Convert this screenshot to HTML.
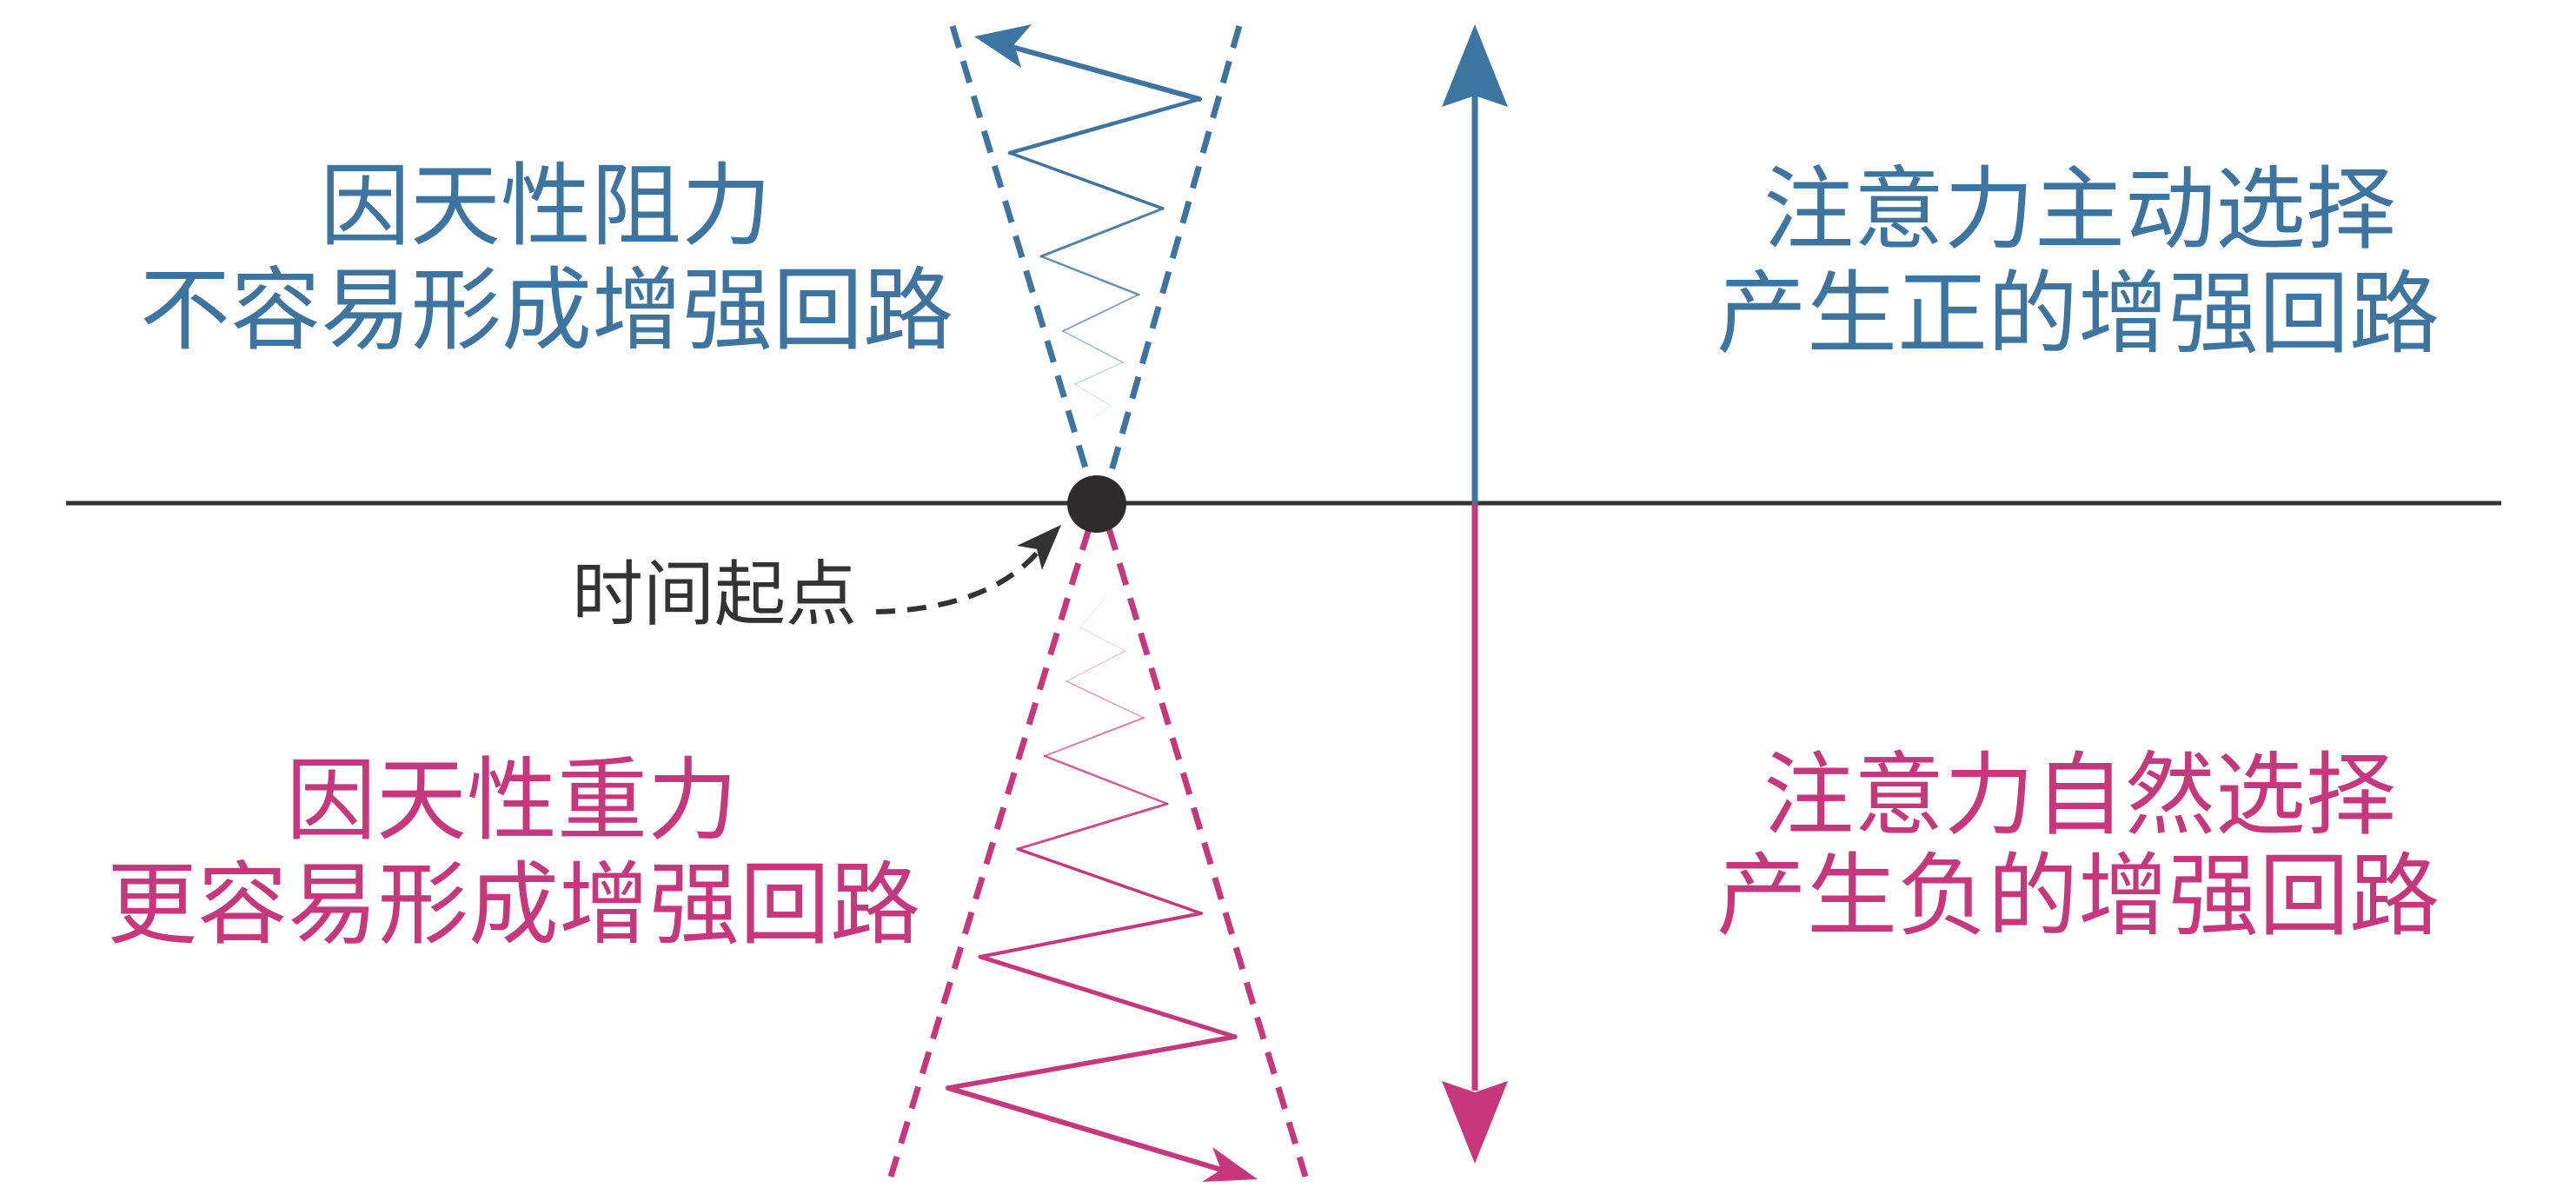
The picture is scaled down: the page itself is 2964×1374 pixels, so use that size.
<!DOCTYPE html>
<html><head><meta charset="utf-8"><style>
html,body{margin:0;padding:0;background:#fff;}
svg{display:block;}
text{font-family:"Liberation Sans","Noto Sans CJK SC",sans-serif;}
</style></head><body>
<svg width="2964" height="1374" viewBox="0 0 2964 1374" xmlns="http://www.w3.org/2000/svg">
<rect width="2964" height="1374" fill="#fff"/>
<!-- axis -->
<line x1="76" y1="579" x2="2878" y2="579" stroke="#333" stroke-width="5"/>
<!-- vertical arrows -->
<line x1="1697" y1="579" x2="1697" y2="110" stroke="#3d74a0" stroke-width="7"/>
<polygon points="1697,28 1659,123 1697,110 1735,123" fill="#3d74a0"/>
<line x1="1697" y1="579" x2="1697" y2="1255" stroke="#c6377c" stroke-width="7"/>
<polygon points="1697,1339 1659,1244 1697,1257 1735,1244" fill="#c6377c"/>
<!-- blue dashed cone -->
<g stroke="#3d74a0" stroke-width="7" stroke-dasharray="26,16" fill="none">
<line x1="1096" y1="30" x2="1253" y2="552"/>
<line x1="1426" y1="30" x2="1276" y2="552"/>
</g>
<!-- pink dashed cone -->
<g stroke="#c6377c" stroke-width="7" stroke-dasharray="26,16" fill="none">
<line x1="1253" y1="608" x2="1025" y2="1354"/>
<line x1="1276" y1="608" x2="1502" y2="1354"/>
</g>
<!-- blue zigzag -->
<g stroke="#3d74a0" fill="none" stroke-linecap="round">
<line x1="1260" y1="480" x2="1278" y2="467" stroke-width="1" opacity="0.15"/>
<line x1="1278" y1="467" x2="1237" y2="442" stroke-width="1" opacity="0.25"/>
<line x1="1237" y1="442" x2="1292" y2="417" stroke-width="1.2" opacity="0.35"/>
<line x1="1292" y1="417" x2="1223" y2="381" stroke-width="1.5" opacity="0.5"/>
<line x1="1223" y1="381" x2="1310" y2="339" stroke-width="2" opacity="0.65"/>
<line x1="1310" y1="339" x2="1198" y2="295" stroke-width="2.5" opacity="0.8"/>
<line x1="1198" y1="295" x2="1338" y2="240" stroke-width="3" opacity="0.9"/>
<line x1="1338" y1="240" x2="1162" y2="176" stroke-width="3.5"/>
<line x1="1162" y1="176" x2="1380" y2="114" stroke-width="4.5"/>
<line x1="1380" y1="114" x2="1150" y2="50" stroke-width="6"/>
</g>
<polygon points="1121,42 1187,28 1167,51 1175,78" fill="#3d74a0"/>
<!-- pink zigzag -->
<g stroke="#c6377c" fill="none" stroke-linecap="round">
<line x1="1272" y1="687" x2="1243" y2="722" stroke-width="1" opacity="0.12"/>
<line x1="1243" y1="722" x2="1295" y2="749" stroke-width="1" opacity="0.25"/>
<line x1="1295" y1="749" x2="1227" y2="784" stroke-width="1.2" opacity="0.35"/>
<line x1="1227" y1="784" x2="1316" y2="826" stroke-width="1.5" opacity="0.5"/>
<line x1="1316" y1="826" x2="1202" y2="870" stroke-width="2" opacity="0.65"/>
<line x1="1202" y1="870" x2="1343" y2="925" stroke-width="2.5" opacity="0.8"/>
<line x1="1343" y1="925" x2="1171" y2="977" stroke-width="3" opacity="0.9"/>
<line x1="1171" y1="977" x2="1382" y2="1051" stroke-width="3.5"/>
<line x1="1382" y1="1051" x2="1128" y2="1101" stroke-width="4"/>
<line x1="1128" y1="1101" x2="1421" y2="1193" stroke-width="5"/>
<line x1="1421" y1="1193" x2="1091" y2="1252" stroke-width="5.5"/>
<line x1="1091" y1="1252" x2="1415" y2="1349" stroke-width="6"/>
</g>
<polygon points="1447,1357 1383,1360 1405,1346 1395,1320" fill="#c6377c"/>
<!-- dot -->
<ellipse cx="1262" cy="580" rx="34" ry="33" fill="#2e2b2c"/>
<!-- dashed curve arrow -->
<path d="M1008,704 C1090,702 1160,680 1200,628" stroke="#333" stroke-width="6" stroke-dasharray="22,14" fill="none"/>
<polygon points="1221,604 1170,628 1193,632 1199,656" fill="#333"/>
<!-- labels -->
<text x="986" y="712" font-size="82" fill="#333" text-anchor="end">时间起点</text>
<g font-size="104" text-anchor="middle">
<text x="628" y="273" fill="#3d74a0">因天性阻力</text>
<text x="629" y="393" fill="#3d74a0">不容易形成增强回路</text>
<text x="2393" y="277" fill="#3d74a0">注意力主动选择</text>
<text x="2391" y="397" fill="#3d74a0">产生正的增强回路</text>
<text x="589" y="957" fill="#c6377c">因天性重力</text>
<text x="591" y="1077" fill="#c6377c">更容易形成增强回路</text>
<text x="2393" y="951" fill="#c6377c">注意力自然选择</text>
<text x="2391" y="1067" fill="#c6377c">产生负的增强回路</text>
</g>
</svg>
</body></html>
